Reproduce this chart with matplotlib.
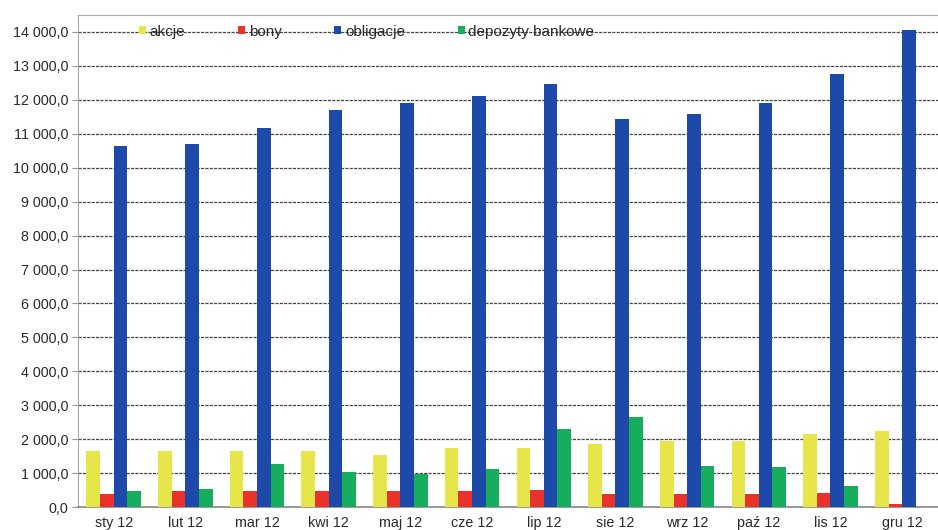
import matplotlib.pyplot as plt
import numpy as np
from matplotlib.ticker import FuncFormatter

months = ['sty 12', 'lut 12', 'mar 12', 'kwi 12', 'maj 12', 'cze 12',
          'lip 12', 'sie 12', 'wrz 12', 'paź 12', 'lis 12', 'gru 12']
akcje = [1650, 1650, 1650, 1650, 1550, 1750, 1750, 1850, 1950, 1950, 2150, 2250]
bony = [380, 480, 480, 480, 480, 480, 500, 400, 400, 400, 420, 100]
obligacje = [10650, 10700, 11180, 11700, 11900, 12100, 12450, 11420, 11570, 11900, 12750, 14050]
depozyty = [470, 530, 1280, 1030, 990, 1130, 2300, 2650, 1200, 1170, 620, 0]

plt.rcParams['font.family'] = ['Liberation Sans', 'DejaVu Sans']
plt.rcParams['text.color'] = '#2a2a2a'
plt.rcParams['xtick.labelcolor'] = '#2a2a2a'
plt.rcParams['ytick.labelcolor'] = '#2a2a2a'

fig = plt.figure(figsize=(9.38, 5.30), dpi=100)
ax = fig.add_axes([0.083, 0.043, 0.917, 0.929])

x = np.arange(len(months))
w = 0.19
series = [(akcje, '#e6e64a', 'akcje'), (bony, '#e8322a', 'bony'),
          (obligacje, '#1d4aa8', 'obligacje'), (depozyty, '#16ad5c', 'depozyty bankowe')]
for i, (vals, col, lab) in enumerate(series):
    ax.bar(x + (i - 1.5) * w, vals, w, color=col, label=lab, zorder=3)

ax.set_xlim(-0.5, 11.5)
ax.set_ylim(0, 14500)
ax.set_yticks(np.arange(0, 14001, 1000))
ax.yaxis.set_major_formatter(FuncFormatter(
    lambda v, p: '{:,.1f}'.format(v).replace(',', ' ').replace('.', ',')))
ax.set_xticks(x)
ax.set_xticklabels(months)
ax.tick_params(axis='y', labelsize=10.3, length=4, color='#999999', pad=3)
ax.tick_params(axis='x', labelsize=10.3, length=0, pad=6)
ax.grid(axis='y', color='#444444', linewidth=0.9, linestyle=(0, (2.5, 1)), zorder=0)

# white patch behind the legend hides the top gridline there
ax.axhspan(13700, 14300, xmin=0, xmax=0.653, color='white', zorder=1)

for s in ['left', 'top']:
    ax.spines[s].set_color('#aaaaaa')
ax.spines['right'].set_visible(False)
ax.spines['bottom'].set_color('#888888')
ax.spines['bottom'].set_linewidth(1.2)

leg = ax.legend(loc='center left', bbox_to_anchor=(0.071, 14000 / 14500), ncol=4,
                fontsize=11, frameon=False, handlelength=0.45, handleheight=0.45,
                handletextpad=0.25, columnspacing=3.45, borderpad=0, borderaxespad=0)
leg.set_zorder(5)

fig.savefig('out.png', dpi=100)
